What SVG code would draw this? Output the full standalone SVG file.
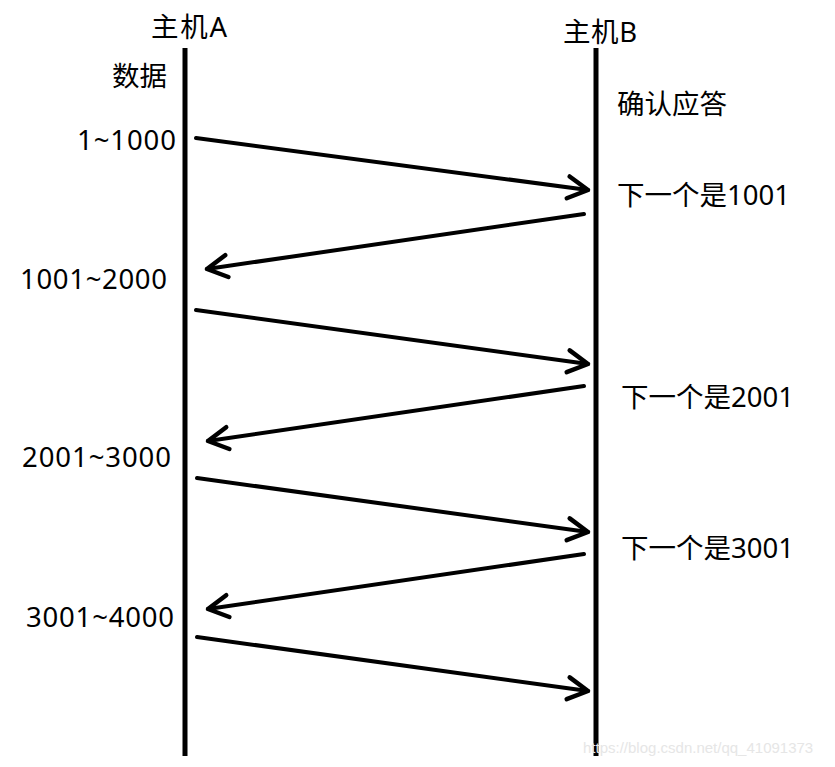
<svg xmlns="http://www.w3.org/2000/svg" width="835" height="767" viewBox="0 0 835 767">
<style>
.t{font-family:"Noto Sans","Noto Sans CJK SC",sans-serif;font-size:27.5px;fill:#000}
.life{stroke:#000;stroke-width:5;fill:none}
.msg{stroke:#000;stroke-width:4;fill:none;stroke-linecap:round}
.wm{font-family:"Liberation Sans",Arial,sans-serif;font-size:15px;fill:#e6e6e6}
</style>
<defs>
<marker id="ah" viewBox="0 0 30 30" refX="26" refY="15" markerWidth="30" markerHeight="30" markerUnits="userSpaceOnUse" orient="auto">
<path d="M6 4 L26 15 L6 26" fill="none" stroke="#000" stroke-width="4.5" stroke-linecap="round" stroke-linejoin="round"/>
</marker>
</defs>
<rect width="835" height="767" fill="#fff"/>
<g id="hostA">
<line class="life" x1="185" y1="48" x2="185" y2="756"/>
<text class="t" x="151" y="37" textLength="76" lengthAdjust="spacing">主机A</text>
</g>
<g id="hostB">
<line class="life" x1="596" y1="48" x2="596" y2="756"/>
<text class="t" x="563" y="42" textLength="74" lengthAdjust="spacing">主机B</text>
</g>
<g id="labels">
<text class="t" x="112" y="86">数据</text>
<text class="t" x="617" y="114">确认应答</text>
<text class="t" x="77" y="150" textLength="99" lengthAdjust="spacing">1~1000</text>
<text class="t" x="617" y="205">下一个是1001</text>
<text class="t" x="20" y="289" textLength="147" lengthAdjust="spacing">1001~2000</text>
<text class="t" x="621" y="407">下一个是2001</text>
<text class="t" x="22" y="467" textLength="149" lengthAdjust="spacing">2001~3000</text>
<text class="t" x="621" y="558">下一个是3001</text>
<text class="t" x="26" y="627" textLength="148" lengthAdjust="spacing">3001~4000</text>
</g>
<g id="connectors">
<line class="msg" x1="196" y1="138" x2="588" y2="190" marker-end="url(#ah)"/>
<line class="msg" x1="584" y1="214" x2="207" y2="269" marker-end="url(#ah)"/>
<line class="msg" x1="196" y1="310" x2="588" y2="364" marker-end="url(#ah)"/>
<line class="msg" x1="584" y1="386" x2="208" y2="441" marker-end="url(#ah)"/>
<line class="msg" x1="197" y1="478" x2="588" y2="532" marker-end="url(#ah)"/>
<line class="msg" x1="584" y1="554" x2="208" y2="609" marker-end="url(#ah)"/>
<line class="msg" x1="197" y1="637" x2="588" y2="691" marker-end="url(#ah)"/>
</g>
<text class="wm" x="583" y="753">https://blog.csdn.net/qq_41091373</text>
</svg>
